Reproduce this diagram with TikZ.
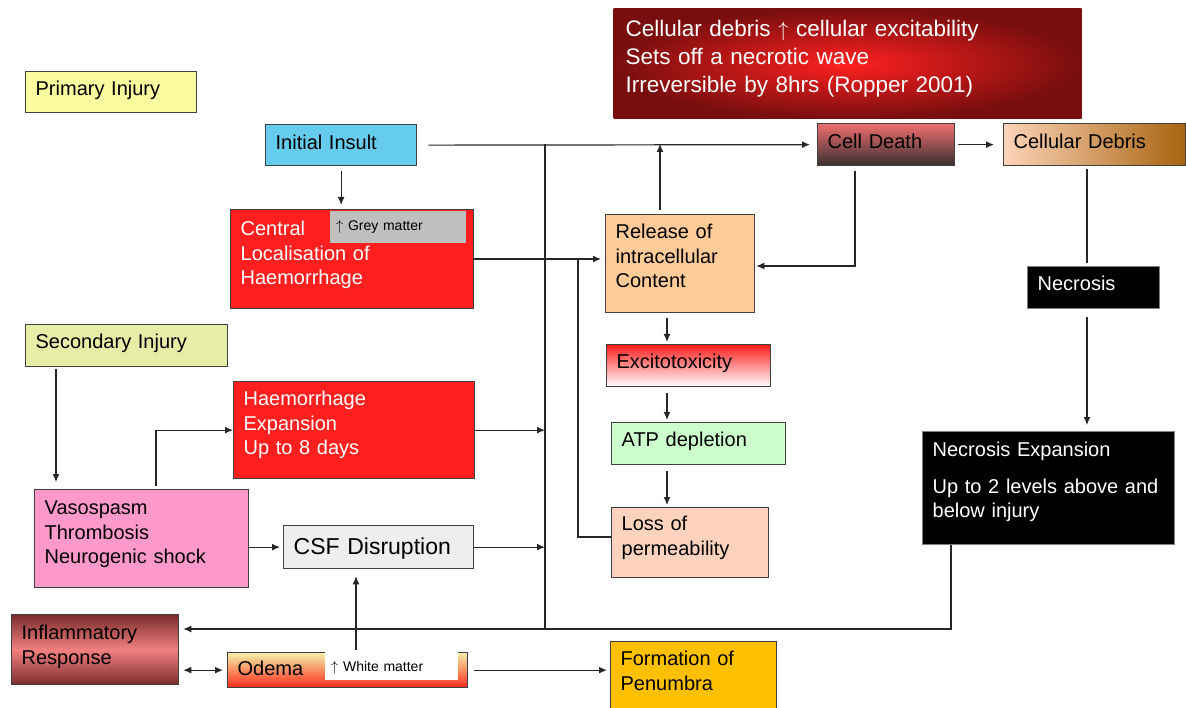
\documentclass[tikz,border=0pt]{standalone}
\usepackage{fontspec}
\setmainfont{Liberation Sans}
\usetikzlibrary{arrows.meta}

\definecolor{boxline}{HTML}{404040}
\definecolor{primfill}{HTML}{FAFA9E}
\definecolor{secfill}{HTML}{E6EDA6}
\definecolor{insultfill}{HTML}{66CCEE}
\definecolor{haemfill}{HTML}{FF1F1F}
\definecolor{greyfill}{HTML}{BFBFBF}
\definecolor{vasofill}{HTML}{FF99CC}
\definecolor{csffill}{HTML}{EEEEEE}
\definecolor{releasefill}{HTML}{FFCC99}
\definecolor{atpfill}{HTML}{CCFFCC}
\definecolor{lossfill}{HTML}{FDD3BE}
\definecolor{penfill}{HTML}{FFC000}
\definecolor{bannerin}{HTML}{FF2020}
\definecolor{bannerout}{HTML}{780E0E}
\definecolor{deathtop}{HTML}{EE6F6F}
\definecolor{deathbot}{HTML}{3A3030}
\definecolor{debrisleft}{HTML}{FCD4B8}
\definecolor{debrisright}{HTML}{A8640F}
\definecolor{inflamdark}{HTML}{7B2C2C}
\definecolor{inflamlight}{HTML}{F28080}
\definecolor{odematop}{HTML}{F4F0A8}
\definecolor{odemabot}{HTML}{FF2B1A}

\begin{document}
\begin{tikzpicture}[x=1pt, y=-1pt,
    box/.style={draw=boxline, line width=1.3pt, anchor=north west, inner xsep=10pt,
                inner ysep=0pt, align=left, font=\fontsize{20}{24.5}\selectfont,
                text height=15pt, text depth=8pt},
    tagbox/.style={anchor=north west, inner xsep=6pt, inner ysep=0pt, align=left,
                   font=\fontsize{14}{16}\selectfont, text height=11pt},
    conn/.style={line width=1.2pt, draw=black!85},
    arr/.style={conn, -{Latex[length=8pt,width=7pt]}}]
    \useasboundingbox (0,0) rectangle (1186,708);

    % left column
    \node[box, fill=primfill, text width=151pt, minimum height=41pt] (prim) at (25,71) {Primary Injury};
    \node[box, fill=secfill, text width=182pt, minimum height=42pt, text depth=9pt] (second) at (25,324) {Secondary Injury};
    \node[box, fill=vasofill, text width=194pt, minimum height=98pt, text depth=63pt] (vaso) at (34,489)
        {Vasospasm\\Thrombosis\\Neurogenic shock};
    \node[box, top color=inflamdark, bottom color=inflamdark, middle color=inflamlight,
          text width=147pt, minimum height=70pt, text depth=35pt] (inflam) at (11,614) {Inflammatory\\Response};

    % middle column
    \node[box, fill=insultfill, text width=131pt, minimum height=41pt, text depth=6pt] (insult) at (265,124) {Initial Insult};
    \node[box, fill=haemfill, text=white, text width=223pt, minimum height=99pt, text depth=62pt] (central) at (230,209)
        {Central\\Localisation of\\Haemorrhage};
    \node[tagbox, fill=greyfill, text width=124pt, minimum height=32pt, text depth=5pt] (grey) at (330,211) {$\uparrow$ Grey matter};
    \node[box, fill=haemfill, text=white, text width=221pt, minimum height=97pt, text depth=64pt] (haemexp) at (233,381)
        {Haemorrhage\\Expansion\\Up to 8 days};
    \node[box, fill=csffill, text width=170pt, minimum height=43pt, font=\fontsize{23}{27}\selectfont,
          text height=17pt, text depth=2pt] (csf) at (283,525) {CSF Disruption};
    \node[box, top color=odematop, bottom color=odemabot, text width=220pt, minimum height=35pt, text depth=4pt]
        (odema) at (227,652) {Odema};
    \node[tagbox, fill=white, text width=121pt, minimum height=28pt, text depth=1pt] (white) at (325,652) {$\uparrow$ White matter};

    % cascade
    \node[box, draw=none, inner color=bannerin, outer color=bannerout, text=white, text width=444pt,
          minimum height=110pt, inner xsep=12pt, font=\fontsize{22.5}{28}\selectfont,
          text height=16pt, text depth=70pt] (banner) at (613,8)
        {Cellular debris $\uparrow$ cellular excitability\\Sets off a necrotic wave\\Irreversible by 8hrs (Ropper 2001)};
    \node[box, top color=deathtop, bottom color=deathbot, text width=117pt, minimum height=42pt, text depth=7pt]
        (death) at (817,123) {Cell Death};
    \node[box, left color=debrisleft, right color=debrisright, text width=162pt, minimum height=42pt, text depth=7pt]
        (debris) at (1003,123) {Cellular Debris};
    \node[box, fill=releasefill, text width=129pt, minimum height=98pt, text depth=65pt] (release) at (605,214)
        {Release of\\intracellular\\Content};
    \node[box, top color=haemfill, bottom color=white, text width=144pt, minimum height=42pt, text depth=9pt]
        (excito) at (606,344) {Excitotoxicity};
    \node[box, fill=atpfill, text width=154pt, minimum height=42pt, text depth=9pt] (atp) at (611,422) {ATP depletion};
    \node[box, fill=lossfill, text width=137pt, minimum height=70pt, text depth=39pt] (loss) at (611,507) {Loss of\\permeability};
    \node[box, fill=penfill, text width=146pt, minimum height=72pt, text depth=39pt] (penumbra) at (610,641) {Formation of\\Penumbra};

    % right column
    \node[box, fill=black, draw=gray, text=white, text width=112pt, minimum height=42pt, text depth=9pt]
        (necrosis) at (1027,266) {Necrosis};
    \node[box, fill=black, draw=gray, text=white, text width=232pt, minimum height=113pt, text depth=78pt]
        (necexp) at (922,431) {Necrosis Expansion\\[12pt]Up to 2 levels above and\\below injury};

    % junctions
    \coordinate (jtop) at (545,144);
    \coordinate (jbot) at (545,629);
    \coordinate (jleft) at (578,259);
    \coordinate (jrel) at (660,144);
    \coordinate (jdeath) at (855,266);
    \coordinate (jnec) at (951,629);
    \coordinate (colx) at (667,0);
    \coordinate (secx) at (56,0);
    \coordinate (hx) at (156,0);
    \coordinate (ox) at (356,0);

    % connectors
    \draw[arr, shorten <=11pt, shorten >=7pt] (insult.east) -- (death.west);
    \draw[conn] (jtop) -- (jbot);
    \draw[arr, shorten <=5pt, shorten >=4pt] (insult.south) -- (insult.south |- central.north);
    \draw[arr, shorten >=4pt] (central.east |- jleft) -- (jleft -| release.west);
    \draw[conn] (loss.west |- 0,537) -- (jleft |- 0,537) -- (jleft);
    \draw[arr, shorten <=4pt] (release.north -| jrel) -- (jrel);
    \draw[arr, shorten <=5pt, shorten >=1pt] (death.south -| jdeath) -- (jdeath) -- (jdeath -| release.east);
    \draw[arr, shorten <=3pt, shorten >=9pt] (death.east) -- (debris.west);
    \draw[conn, shorten <=3pt, shorten >=3pt] (debris.south -| 1087,0) -- (necrosis.north -| 1087,0);
    \draw[arr, shorten <=8pt, shorten >=6pt] (necrosis.south -| 1087,0) -- (necexp.north -| 1087,0);
    \draw[arr, shorten <=5pt, shorten >=2pt] (release.south -| colx) -- (excito.north -| colx);
    \draw[arr, shorten <=6pt, shorten >=2pt] (excito.south -| colx) -- (atp.north -| colx);
    \draw[arr, shorten <=6pt, shorten >=2pt] (atp.south -| colx) -- (loss.north -| colx);
    \draw[arr, shorten <=2pt, shorten >=7pt] (second.south -| secx) -- (vaso.north -| secx);
    \draw[arr, shorten <=3pt] (vaso.north -| hx) |- (haemexp.west);
    \draw[arr] (haemexp.east) -- (haemexp.east -| jtop);
    \draw[arr, shorten >=3pt] (vaso.east |- csf.west) -- (csf.west);
    \draw[arr] (csf.east) -- (csf.east -| jtop);
    \draw[arr, shorten <=2pt, shorten >=7pt] (odema.north -| ox) -- (csf.south -| ox);
    \draw[conn, {Latex[length=8pt,width=7pt]}-{Latex[length=8pt,width=7pt]}, shorten <=4pt, shorten >=4pt]
        (inflam.east |- odema.west) -- (odema.west);
    \draw[arr, shorten <=6pt, shorten >=3pt] (odema.east) -- (odema.east -| penumbra.west);
    \draw[arr, shorten >=4pt] (necexp.south -| jnec) -- (jnec) -- (jnec -| inflam.east);
\end{tikzpicture}
\end{document}
